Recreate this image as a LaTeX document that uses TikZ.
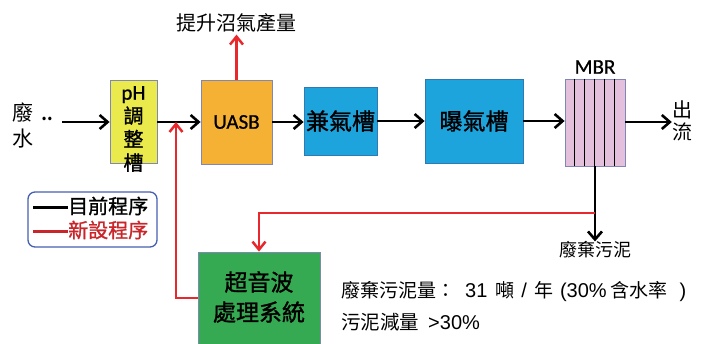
\documentclass[tikz,border=0pt]{standalone}
\usepackage{fontspec}
\setmainfont{Noto Sans CJK TC}
\newfontfamily\boldish{Noto Sans CJK TC}[FakeBold=1.2]
\newfontfamily\lat{Carlito}
\newfontfamily\latb{Carlito}[FakeBold=0.8]
\newfontfamily\arial{Liberation Sans}
\usetikzlibrary{arrows.meta,calc}
\definecolor{boxyellow}{RGB}{234,234,76}
\definecolor{boxorange}{RGB}{244,177,52}
\definecolor{boxblue}{RGB}{30,164,220}
\definecolor{boxgreen}{RGB}{54,170,82}
\definecolor{boxpink}{RGB}{229,192,220}
\definecolor{edgegray}{RGB}{128,134,181}
\definecolor{edgeblue}{RGB}{50,120,180}
\definecolor{flowred}{RGB}{232,40,45}
\definecolor{legred}{RGB}{200,38,42}
\definecolor{legblue}{RGB}{70,96,176}
\begin{document}
\begin{tikzpicture}[x=1pt,y=-1pt,
  procbox/.style={draw=edgegray,line width=0.8pt,inner sep=0pt,minimum width=#1},
  flow/.style={line width=2.8pt,-{Straight Barb[length=8pt,width=14pt,line width=2.6pt]}},
  newflow/.style={draw=flowred,line width=2.7pt,-{Straight Barb[length=8pt,width=13pt,line width=2.5pt]}},
  cjk/.style={font=\boldish\fontsize{#1}{#1}\selectfont}
]
\useasboundingbox (0,0) rectangle (701,343);

% boxes
\node[procbox=47pt,minimum height=83pt,fill=boxyellow] (ph) at (133.5,122) {};
\node[anchor=north,align=center,inner sep=0pt,font=\boldish\fontsize{20}{23.5}\selectfont] (phtext) at (133.5,86) {{\latb\fontsize{21}{23.5}\selectfont pH}\\調\\整\\槽};
\node[procbox=71pt,minimum height=84pt,fill=boxorange,font=\latb\fontsize{21}{21}\selectfont] (uasb) at (236.5,122) {UASB};
\node[procbox=73pt,minimum height=68pt,fill=boxblue,draw=edgeblue,cjk=23] (anox) at (340.5,121) {兼氣槽};
\node[procbox=98pt,minimum height=84pt,fill=boxblue,draw=edgeblue,cjk=23] (aer) at (474,121) {曝氣槽};
\node[procbox=60pt,minimum height=87pt,fill=boxpink] (mbr) at (595,122.5) {};
\foreach \k in {1,...,5}{
  \draw[line width=1pt] ($(mbr.north west)+(\k*10,0)$) -- ($(mbr.south west)+(\k*10,0)$);
}
\node[font=\latb\fontsize{21}{21}\selectfont,inner sep=0pt] (mbrlabel) at (595,67) {MBR};
\node[procbox=122pt,minimum height=92pt,fill=boxgreen] (sono) at (259,298) {};
\node[align=center,inner sep=0pt,font=\boldish\fontsize{23}{30}\selectfont] (sonotext) at (259,297) {超音波\\處理系統};

% texts
\node[align=center,inner sep=0pt,font=\fontsize{21}{26}\selectfont] (inlet) at (23,125) {廢\\水};
\node[inner sep=0pt,font=\fontsize{16}{16}\selectfont\bfseries] (dots) at (47,119) {..};
\coordinate (instart) at (62,122);
\node[align=center,inner sep=0pt,font=\fontsize{20}{22}\selectfont] (outlet) at (682,121) {出\\流};
\node[inner sep=2pt,font=\fontsize{20}{20}\selectfont] (goal) at (236.5,23) {提升沼氣產量};
\node[inner sep=0pt,font=\fontsize{18}{18}\selectfont] (waste) at (595,250) {廢棄污泥};
\node[anchor=west,inner sep=0pt,font=\fontsize{19}{19}\selectfont] (note1) at (341,292) {廢棄污泥量：\hspace{10pt}{\arial\fontsize{20}{20}\selectfont 31}\hspace{8pt}噸\hspace{7pt}{\arial\fontsize{20}{20}\selectfont /}\hspace{7pt}年\hspace{7pt}{\arial\fontsize{20}{20}\selectfont (30\%}\hspace{4pt}含水率\hspace{12pt}{\arial\fontsize{20}{20}\selectfont )}};
\node[anchor=west,inner sep=0pt,font=\fontsize{19.5}{19.5}\selectfont] (note2) at (341,322) {污泥減量\hspace{9pt}{\arial\fontsize{20}{20}\selectfont >30\%}};

% legend
\node[draw=legblue,line width=1.3pt,rounded corners=7pt,minimum width=129pt,minimum height=55pt] (legend) at (92.5,219.5) {};
\coordinate (lb1) at (33,207);
\coordinate (lb2) at (68,207);
\coordinate (lr1) at (33,231);
\coordinate (lr2) at (68,231);
\draw[line width=3pt] (lb1) -- (lb2);
\draw[line width=3pt,legred] (lr1) -- (lr2);
\node[anchor=west,inner sep=0pt,font=\boldish\fontsize{20}{20}\selectfont] (legcur) at (68,206) {目前程序};
\node[anchor=west,inner sep=0pt,font=\boldish\fontsize{20}{20}\selectfont,text=legred] (legnew) at (68,230) {新設程序};

% flows
\draw[flow] (instart) -- (ph.west);
\draw[flow] (ph.east) -- (uasb.west);
\draw[flow] (uasb.east) -- (uasb.east -| anox.west);
\draw[flow] (anox.east) -- (aer.west);
\draw[flow] (aer.east) -- (aer.east -| mbr.west);
\draw[flow] (mbr.east |- 0,122) -- (outlet.west |- 0,122);
\draw[flow] (mbr.south) -- (waste.north);

% new flows
\coordinate (merge) at (176,122);
\coordinate (branch) at (595,213);
\draw[newflow] (uasb.north) -- (goal.south);
\draw[newflow] (sono.west) -| (merge);
\draw[newflow] (branch) -| (sono.north);
\end{tikzpicture}
\end{document}
